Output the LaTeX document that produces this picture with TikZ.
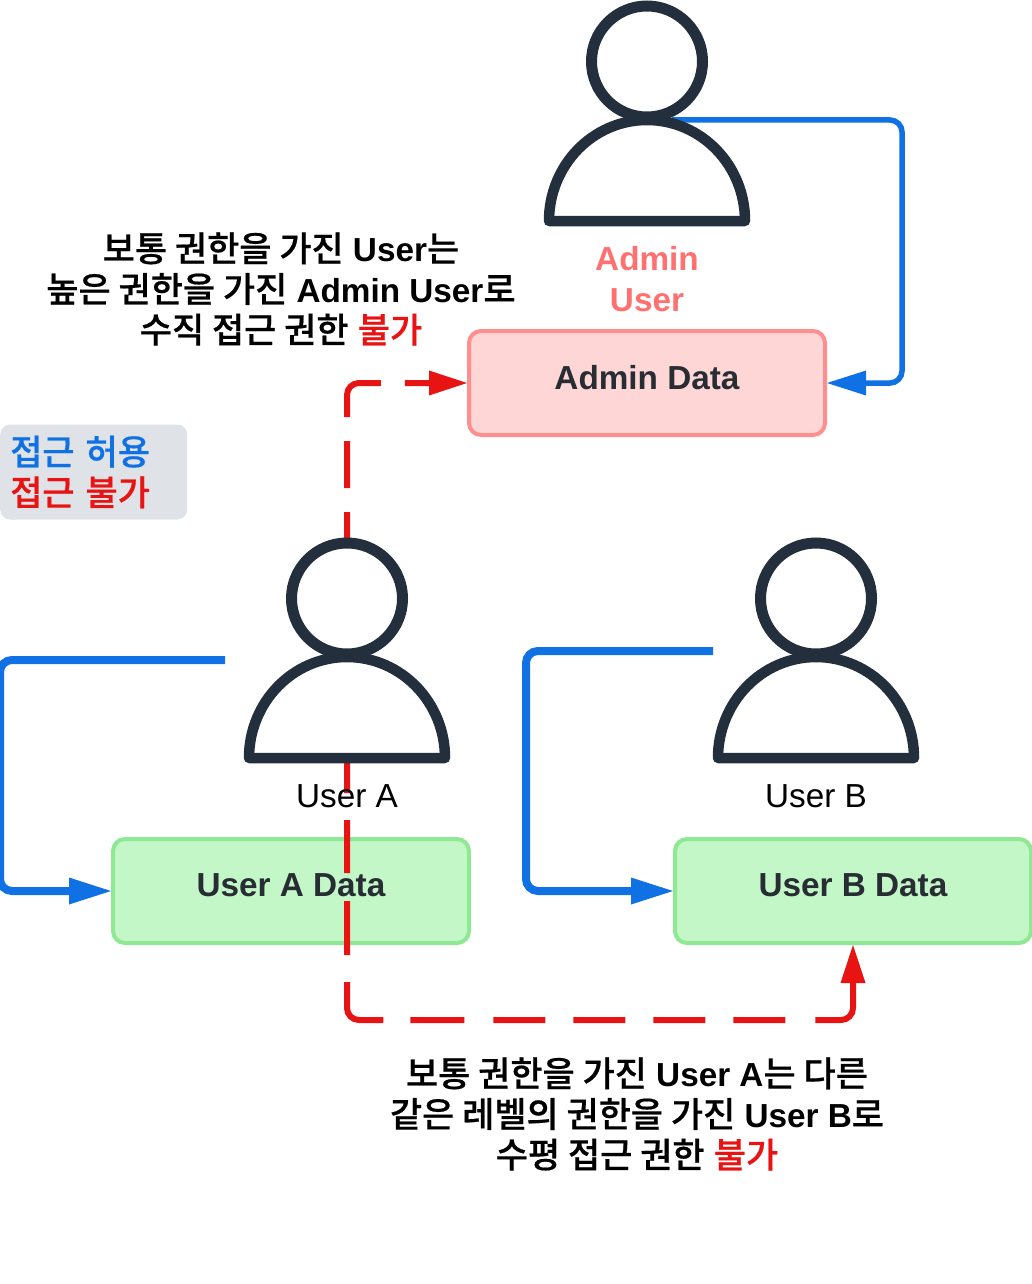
\documentclass[tikz,border=0pt]{standalone}
\usepackage{fontspec}
\setmainfont{Liberation Sans}
\newfontfamily\krfont[Scale=1.05, BoldFont={Noto Sans CJK KR Medium}, BoldFeatures={FakeBold=0.5}]{Noto Sans CJK KR}
\newcommand{\kr}[1]{{\krfont #1}}
\definecolor{AllowBlue}{RGB}{16, 113, 229}
\definecolor{DenyRed}{RGB}{232, 19, 19}
\definecolor{PersonNavy}{RGB}{35, 47, 61}
\definecolor{DataText}{RGB}{40, 44, 51}
\definecolor{AdminPink}{RGB}{255, 214, 214}
\definecolor{AdminEdge}{RGB}{255, 143, 143}
\definecolor{AdminLabel}{RGB}{255, 113, 113}
\definecolor{UserGreen}{RGB}{195, 247, 200}
\definecolor{UserEdge}{RGB}{143, 232, 148}
\definecolor{LegendGrey}{RGB}{223, 227, 232}
\usetikzlibrary{arrows.meta, positioning}

\begin{document}
\begin{tikzpicture}[x=1pt, y=-1pt, font=\fontsize{33.3}{40.6}\selectfont,
  databox/.style={draw, rounded corners=12pt, line width=4pt, minimum width=356pt, minimum height=104pt, text=DataText, font=\bfseries\fontsize{33.3}{40.6}\selectfont, text depth=12pt},
  admindata/.style={databox, draw=AdminEdge, fill=AdminPink},
  userdata/.style={databox, draw=UserEdge, fill=UserGreen},
  head/.style={circle, draw=PersonNavy, fill=white, line width=11pt, minimum size=111pt, inner sep=0pt},
  body/.style={draw=PersonNavy, fill=white, line width=10.5pt, line join=round},
  note/.style={align=center, font=\bfseries\fontsize{33.3}{40.6}\selectfont},
  allow/.style={-{Triangle[length=42pt, width=27pt, line width=0pt]}, AllowBlue, line width=8pt, rounded corners=12pt},
  deny/.style={-{Triangle[length=38pt, width=25pt, line width=0pt]}, DenyRed, line width=6pt, rounded corners=12pt}]
\useasboundingbox (0,0) rectangle (1031,1284);
\node[admindata] (admindata) at (647,383) {Admin Data};
\node[userdata] (adata) at (291,891) {User A Data};
\node[userdata] (bdata) at (853,891) {User B Data};
\coordinate (adminfrom) at (672,120);
\coordinate (adminturn) at (902,120);
\coordinate (afrom) at (225,660);
\coordinate (bfrom) at (713,651);
\coordinate (upfrom) at (347,560);
\coordinate (sidefrom) at (347,739);
\draw[allow, line width=5.5pt, -{Triangle[length=39pt, width=25pt, line width=0pt]}] (adminfrom) -- (adminturn) |- (admindata.east);
\draw[allow] (afrom) -| (0,891) -- (adata.west);
\draw[allow] (bfrom) -| (526,891) -- (bdata.west);
\draw[deny, dash pattern=on 48pt off 24pt on 47pt off 24pt on 62.5pt off 24pt on 200pt] (upfrom) |- (admindata.west);
\draw[deny, dash pattern=on 54pt off 27pt on 53pt off 28pt on 54pt off 27pt on 69pt off 27pt on 54pt off 29pt on 52pt off 28pt on 52pt off 28pt on 52pt off 28pt on 52pt off 30pt on 200pt] (sidefrom) |- (853,1020) -- (bdata.south);
\foreach \who/\x/\y in {admin/647/221, a/347/758, b/816/758}{
  \draw[body] (\x-98,\y) arc[start angle=180, end angle=360, x radius=98, y radius=101] -- cycle;
  \node[head] (\who head) at (\x,\y-159.5) {};
}
\node[note, text=AdminLabel] (adminlabel) at (647,279) {Admin\\User};
\node (alabel) at (347,796) {User A};
\node (blabel) at (816,796) {User B};
\node[note] (vertnote) at (281,289) {\kr{보통 권한을 가진} User\kr{는}\\\kr{높은 권한을 가진} Admin User\kr{로}\\\kr{수직 접근 권한} \textcolor{DenyRed}{\kr{불가}}};
\node[note] (horiznote) at (637,1114) {\kr{보통 권한을 가진} User A\kr{는 다른}\\\kr{같은 레벨의 권한을 가진} User B\kr{로}\\\kr{수평 접근 권한} \textcolor{DenyRed}{\kr{불가}}};
\node[fill=LegendGrey, rounded corners=10pt, note, align=left, text width=167pt, minimum height=95pt, inner xsep=10pt, anchor=west] (legend) at (0,472) {\textcolor{AllowBlue}{\kr{접근 허용}}\\\textcolor{DenyRed}{\kr{접근 불가}}};
\end{tikzpicture}
\end{document}
